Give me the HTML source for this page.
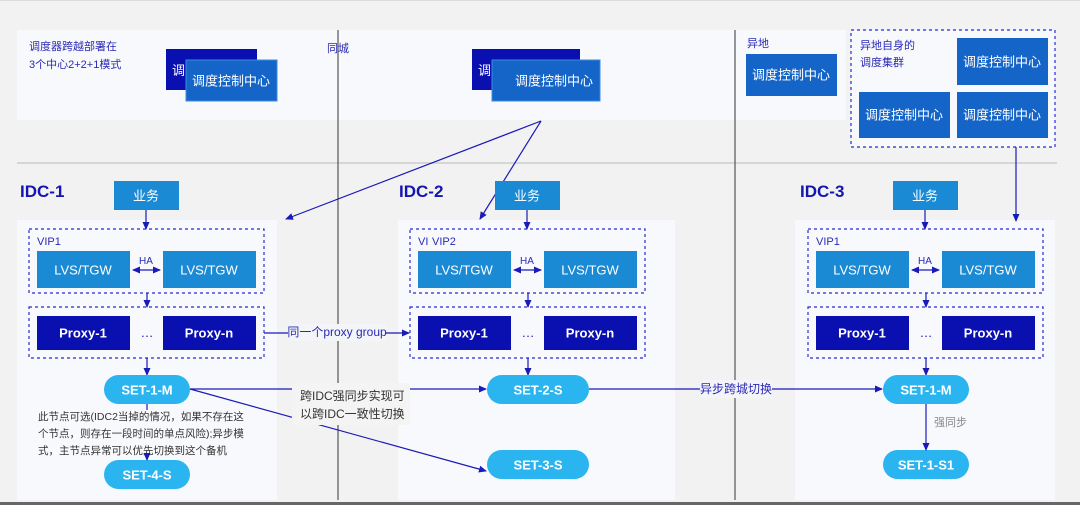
<!DOCTYPE html>
<html><head><meta charset="utf-8"><style>
html,body{margin:0;padding:0;background:#f2f2f2;}
svg{display:block;font-family:"Liberation Sans","Noto Sans CJK SC",sans-serif;}
.w{fill:#fff;font-size:13px;text-anchor:middle;dominant-baseline:central;}
.b{font-weight:bold;}
</style></head><body>
<svg width="1080" height="505" viewBox="0 0 1080 505" xmlns="http://www.w3.org/2000/svg">
<defs>
<marker id="a" markerWidth="8" markerHeight="8" refX="7" refY="4" orient="auto" markerUnits="userSpaceOnUse"><path d="M0,0.5 L8,4 L0,7.5z" fill="#1a1ab8"/></marker>
<marker id="s" markerWidth="8" markerHeight="8" refX="1" refY="4" orient="auto" markerUnits="userSpaceOnUse"><path d="M8,0.5 L0,4 L8,7.5z" fill="#1a1ab8"/></marker>
</defs>
<rect x="0" y="0" width="1080" height="1" fill="#ddd"/>
<!-- top panels -->
<rect x="17" y="30" width="829" height="90" fill="#f8f9fc"/>
<rect x="851" y="30" width="204" height="117" fill="#f8f9fc" stroke="#2a2ad0" stroke-width="1.2" stroke-dasharray="3,3"/>
<line x1="17" y1="163" x2="1057" y2="163" stroke="#d6d6d6" stroke-width="2"/>
<!-- IDC panels -->
<rect x="17" y="220" width="260" height="280" fill="#f8f9fc"/>
<rect x="398" y="220" width="277" height="280" fill="#f8f9fc"/>
<rect x="795" y="220" width="260" height="280" fill="#f8f9fc"/>
<line x1="338" y1="30" x2="338" y2="500" stroke="#555" stroke-width="1.2"/>
<line x1="735" y1="30" x2="735" y2="500" stroke="#555" stroke-width="1.2"/>
<rect x="0" y="502" width="1080" height="3" fill="#666"/>

<text x="29" y="50" font-size="11" fill="#2a2ab5">调度器跨越部署在</text>
<text x="29" y="68" font-size="11" fill="#2a2ab5">3个中心2+2+1模式</text>
<text x="327" y="52" font-size="11" fill="#2a2ab5">同城</text>
<text x="747" y="47" font-size="11" fill="#2a2ab5">异地</text>
<text x="860" y="49" font-size="11" fill="#2a2ab5">异地自身的</text>
<text x="860" y="66" font-size="11" fill="#2a2ab5">调度集群</text>

<rect x="166" y="49" width="91" height="41" fill="#0a0fb0"/>
<text x="172" y="75" font-size="13" fill="#fff">调</text>
<rect x="186" y="60" width="91" height="41" fill="#1565c8" stroke="#3a8ae0"/>
<text x="231" y="81" class="w">调度控制中心</text>
<rect x="472" y="49" width="108" height="41" fill="#0a0fb0"/>
<text x="478" y="75" font-size="13" fill="#fff">调</text>
<rect x="492" y="60" width="108" height="41" fill="#1565c8" stroke="#3a8ae0"/>
<text x="554" y="81" class="w">调度控制中心</text>
<rect x="746" y="54" width="91" height="42" fill="#1565c8"/>
<text x="791" y="75" class="w">调度控制中心</text>
<rect x="957" y="38" width="91" height="47" fill="#1565c8"/>
<text x="1002" y="62" class="w">调度控制中心</text>
<rect x="859" y="92" width="91" height="46" fill="#1565c8"/>
<text x="904" y="115" class="w">调度控制中心</text>
<rect x="957" y="92" width="91" height="46" fill="#1565c8"/>
<text x="1002" y="115" class="w">调度控制中心</text>

<!-- arrows from top -->
<g stroke="#1a1ab8" stroke-width="1.2" fill="none">
<line x1="541" y1="121" x2="286" y2="219" marker-end="url(#a)"/>
<line x1="541" y1="121" x2="480" y2="219" marker-end="url(#a)"/>
<line x1="1016" y1="147" x2="1016" y2="221" marker-end="url(#a)"/>
</g>

<text x="20" y="197" font-size="17" font-weight="bold" fill="#1515b0">IDC-1</text>
<text x="399" y="197" font-size="17" font-weight="bold" fill="#1515b0">IDC-2</text>
<text x="800" y="197" font-size="17" font-weight="bold" fill="#1515b0">IDC-3</text>

<!-- IDC blocks generator -->
<g id="i1">
<rect x="114" y="181" width="65" height="29" fill="#1a8ad4"/><text x="146" y="196" class="w">业务</text>
<line x1="146" y1="210" x2="146" y2="229" stroke="#1a1ab8" stroke-width="1.2" marker-end="url(#a)"/>
<rect x="29" y="229" width="235" height="64" fill="none" stroke="#2a2ad0" stroke-width="1.2" stroke-dasharray="3,3"/>
<text x="37" y="245" font-size="11" fill="#2a2ab5">VIP1</text>
<rect x="37" y="251" width="93" height="37" fill="#1a8ad4"/><text x="83" y="270" class="w">LVS/TGW</text>
<rect x="163" y="251" width="93" height="37" fill="#1a8ad4"/><text x="209" y="270" class="w">LVS/TGW</text>
<text x="146" y="264" font-size="10" fill="#2a2ab5" text-anchor="middle">HA</text>
<line x1="133" y1="270" x2="160" y2="270" stroke="#1a1ab8" stroke-width="1.2" marker-end="url(#a)" marker-start="url(#s)"/>
<line x1="147" y1="293" x2="147" y2="307" stroke="#1a1ab8" stroke-width="1.2" marker-end="url(#a)"/>
<rect x="29" y="307" width="235" height="51" fill="none" stroke="#2a2ad0" stroke-width="1.2" stroke-dasharray="3,3"/>
<rect x="37" y="316" width="93" height="34" fill="#0a0fb0"/><text x="83" y="333" class="w b">Proxy-1</text>
<rect x="163" y="316" width="93" height="34" fill="#0a0fb0"/><text x="209" y="333" class="w b">Proxy-n</text>
<text x="147" y="337" font-size="13" fill="#1a1ab8" text-anchor="middle">…</text>
<line x1="147" y1="358" x2="147" y2="375" stroke="#1a1ab8" stroke-width="1.2" marker-end="url(#a)"/>
</g>
<use href="#i1" x="381"/>
<use href="#i1" x="779"/>
<rect x="428" y="236" width="30" height="12" fill="#f8f9fc"/>
<text x="432" y="245" font-size="11" fill="#2a2ab5">VIP2</text>

<!-- pills -->
<rect x="104" y="375" width="86" height="29" rx="14.5" fill="#2bb5f0"/><text x="147" y="390" class="w b">SET-1-M</text>
<rect x="104" y="460" width="86" height="29" rx="14.5" fill="#2bb5f0"/><text x="147" y="475" class="w b">SET-4-S</text>
<rect x="487" y="375" width="102" height="29" rx="14.5" fill="#2bb5f0"/><text x="538" y="390" class="w b">SET-2-S</text>
<rect x="487" y="450" width="102" height="29" rx="14.5" fill="#2bb5f0"/><text x="538" y="465" class="w b">SET-3-S</text>
<rect x="883" y="375" width="86" height="29" rx="14.5" fill="#2bb5f0"/><text x="926" y="390" class="w b">SET-1-M</text>
<rect x="883" y="450" width="86" height="29" rx="14.5" fill="#2bb5f0"/><text x="926" y="465" class="w b">SET-1-S1</text>

<line x1="147" y1="404" x2="147" y2="410" stroke="#1a1ab8" stroke-width="1.2"/>
<text x="38" y="420" font-size="10.5" fill="#333">此节点可选(IDC2当掉的情况，如果不存在这</text>
<text x="38" y="437" font-size="10.5" fill="#333">个节点，则存在一段时间的单点风险);异步模</text>
<text x="38" y="454" font-size="10.5" fill="#333">式，主节点异常可以优先切换到这个备机</text>
<line x1="147" y1="456" x2="147" y2="460" stroke="#1a1ab8" stroke-width="1.2" marker-end="url(#a)"/>

<g stroke="#1a1ab8" stroke-width="1.2" fill="none">
<line x1="264" y1="333" x2="409" y2="333" marker-end="url(#a)"/>
<line x1="190" y1="389" x2="486" y2="389" marker-end="url(#a)"/>
<line x1="190" y1="389" x2="486" y2="471" marker-end="url(#a)"/>
<line x1="589" y1="389" x2="882" y2="389" marker-end="url(#a)"/>
<line x1="926" y1="404" x2="926" y2="450" marker-end="url(#a)"/>
</g>
<rect x="288" y="324" width="98" height="17" fill="#f4f5f8"/>
<text x="337" y="336" font-size="12" fill="#2a2ab5" text-anchor="middle">同一个proxy group</text>
<rect x="292" y="383" width="118" height="42" fill="#f4f4f4"/>
<text x="300" y="400" font-size="12" fill="#333">跨IDC强同步实现可</text>
<text x="300" y="418" font-size="12" fill="#333">以跨IDC一致性切换</text>
<rect x="700" y="380" width="72" height="18" fill="#f4f5f8"/>
<text x="736" y="393" font-size="12" fill="#2a2ab5" text-anchor="middle">异步跨城切换</text>
<text x="934" y="426" font-size="11" fill="#888">强同步</text>
</svg>
</body></html>
